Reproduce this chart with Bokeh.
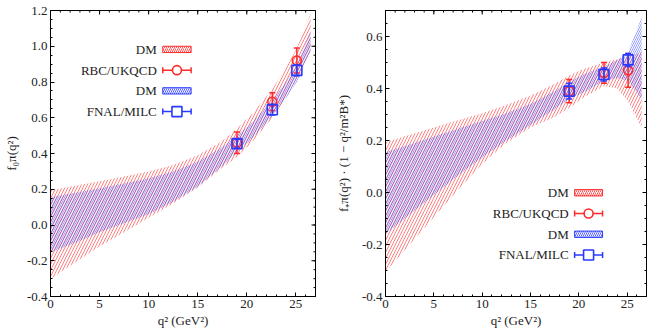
import numpy as np
from bokeh.plotting import figure
from bokeh.layouts import row
from bokeh.models import FixedTicker, PrintfTickFormatter, Range1d
from bokeh.core.properties import value
from bokeh.embed import file_html
from bokeh.resources import INLINE

# ---------------- data ----------------
q_band = [0, 2.5, 5, 7.5, 10, 12.5, 15, 17.5, 19, 20.5, 22.6, 24, 25.1, 26.5]

# left panel: f0
f0_dm_red_upper = [0.195, 0.22, 0.245, 0.272, 0.30, 0.335, 0.39, 0.47, 0.54, 0.62, 0.76, 0.88, 0.99, 1.18]
f0_dm_red_lower = [-0.30, -0.21, -0.12, -0.04, 0.04, 0.12, 0.21, 0.32, 0.38, 0.46, 0.60, 0.71, 0.82, 0.97]
f0_dm_blue_upper = [0.155, 0.18, 0.205, 0.232, 0.262, 0.30, 0.355, 0.435, 0.50, 0.57, 0.70, 0.80, 0.90, 1.08]
f0_dm_blue_lower = [-0.152, -0.10, -0.04, 0.01, 0.06, 0.13, 0.215, 0.33, 0.41, 0.48, 0.61, 0.71, 0.80, 0.98]

# right panel: f+ * (1 - q2/mB*^2)
fp_dm_red_upper = [0.193, 0.222, 0.25, 0.278, 0.305, 0.337, 0.372, 0.418, 0.45, 0.475, 0.50, 0.513, 0.52, 0.54]
fp_dm_red_lower = [-0.306, -0.20, -0.095, 0.01, 0.11, 0.19, 0.25, 0.29, 0.325, 0.365, 0.41, 0.40, 0.35, 0.25]
fp_dm_blue_upper = [0.155, 0.185, 0.215, 0.245, 0.275, 0.305, 0.34, 0.39, 0.425, 0.455, 0.485, 0.51, 0.54, 0.674]
fp_dm_blue_lower = [-0.16, -0.085, -0.01, 0.065, 0.135, 0.20, 0.26, 0.32, 0.36, 0.385, 0.43, 0.44, 0.43, 0.36]

q_lat = [19.0, 22.6, 25.1]
f0_rbc = [0.46, 0.69, 0.92]
f0_rbc_err = [0.06, 0.05, 0.07]
f0_fnal = [0.455, 0.645, 0.865]
f0_fnal_err = [0.025, 0.03, 0.03]
fp_rbc = [0.39, 0.46, 0.47]
fp_rbc_err = [0.045, 0.04, 0.065]
fp_fnal = [0.39, 0.454, 0.51]
fp_fnal_err = [0.03, 0.025, 0.025]

legend_labels = ["DM", "RBC/UKQCD", "DM", "FNAL/MILC"]
x_ticks = [0, 5, 10, 15, 20, 25]
y_ticks_left = [-0.4, -0.2, 0.0, 0.2, 0.4, 0.6, 0.8, 1.0, 1.2]
y_ticks_right = [-0.4, -0.2, 0.0, 0.2, 0.4, 0.6]

RED = "#ff2a2a"
BLUE = "#2a3aff"
FONT = "'Liberation Serif', serif"
TXT = "#222222"


def style_axis(ax, ticker, fmt):
    ax.ticker = ticker
    ax.formatter = fmt
    ax.axis_line_color = "black"
    ax.major_tick_in = 4
    ax.major_tick_out = 0
    ax.minor_tick_in = 2
    ax.minor_tick_out = 0
    ax.major_tick_line_color = "black"
    ax.minor_tick_line_color = "black"
    ax.major_label_text_font = FONT
    ax.major_label_text_font_size = "13px"
    ax.major_label_text_color = TXT
    ax.major_label_standoff = 3
    ax.axis_label_text_font = FONT
    ax.axis_label_text_font_size = "13px"
    ax.axis_label_text_font_style = "normal"
    ax.axis_label_text_color = TXT


def make_fig(ylo, yhi, yticks, bl, br, ylab_standoff, ylabel, red_u, red_l, blue_u, blue_l,
             rbc, rbc_err, fnal, fnal_err, leg_fx, leg_fy, leg_dy):
    xlo, xhi = 0, 27
    p = figure(width=332, height=332, x_range=Range1d(xlo, xhi), y_range=Range1d(ylo, yhi),
               output_backend="svg", toolbar_location=None,
               min_border_left=bl, min_border_right=br, min_border_top=10, min_border_bottom=36)
    p.xgrid.visible = False
    p.ygrid.visible = False
    p.outline_line_color = "black"
    p.outline_line_width = 1

    xmin = list(np.arange(xlo, xhi + 1e-9, 1.0))
    ymin = list(np.round(np.arange(ylo, yhi + 1e-9, 0.05), 3))
    xt = FixedTicker(ticks=x_ticks, minor_ticks=xmin)
    yt = FixedTicker(ticks=yticks, minor_ticks=ymin)
    style_axis(p.xaxis[0], xt, PrintfTickFormatter(format="%d"))
    style_axis(p.yaxis[0], yt, PrintfTickFormatter(format="%.1f"))
    p.xaxis[0].axis_label = "q² (GeV²)"
    p.xaxis[0].axis_label_standoff = 2
    p.yaxis[0].axis_label = ylabel
    p.yaxis[0].axis_label_standoff = ylab_standoff

    # mirrored inward ticks on top and right frame edges (clipped half-dashes)
    p.scatter(x=xmin, y=[yhi] * len(xmin), marker="dash", angle=np.pi / 2, size=4,
              line_color="black", line_width=1)
    p.scatter(x=x_ticks, y=[yhi] * len(x_ticks), marker="dash", angle=np.pi / 2, size=8,
              line_color="black", line_width=1)
    p.scatter(x=[xhi] * len(ymin), y=ymin, marker="dash", size=4, line_color="black", line_width=1)
    p.scatter(x=[xhi] * len(yticks), y=yticks, marker="dash", size=8, line_color="black", line_width=1)

    # bands
    p.varea(x=q_band, y1=red_l, y2=red_u, fill_color=None, fill_alpha=0,
            hatch_pattern="/", hatch_color=RED, hatch_scale=6, hatch_weight=0.8, hatch_alpha=0.75)
    p.varea(x=q_band, y1=blue_l, y2=blue_u, fill_color=None, fill_alpha=0,
            hatch_pattern="\\", hatch_color=BLUE, hatch_scale=4, hatch_weight=0.8, hatch_alpha=0.6)

    # error bars
    for vals, errs, col, mk, sz in ((rbc, rbc_err, RED, "circle", 9), (fnal, fnal_err, BLUE, "square", 10)):
        v = np.array(vals)
        e = np.array(errs)
        p.segment(x0=q_lat, y0=v - e, x1=q_lat, y1=v + e, line_color=col, line_width=1.5)
        p.scatter(x=q_lat + q_lat, y=list(v - e) + list(v + e), marker="dash", size=6,
                  line_color=col, line_width=1.5)
        p.scatter(x=q_lat, y=vals, marker=mk, size=sz, fill_color=None, line_color=col, line_width=1.6)

    # legend (text at left, sample at right)
    xr = xhi - xlo
    yr = yhi - ylo
    tx = xlo + leg_fx * xr
    s0 = tx + 0.61
    s1 = tx + 3.5
    sm = 0.5 * (s0 + s1)
    ys = [ylo + (leg_fy - i * leg_dy) * yr for i in range(4)]
    p.text(x=[tx] * 4, y=ys, text=legend_labels, text_align="right", text_baseline="middle",
           text_font=value(FONT), text_font_size="13px", text_color=TXT)
    hh = 0.011 * yr
    cap = 0.0105 * yr
    for i, (col, kind, mk, sz) in enumerate(((RED, "band", None, 0), (RED, "err", "circle", 9),
                                             (BLUE, "band", None, 0), (BLUE, "err", "square", 10))):
        yy = ys[i]
        if kind == "band":
            pat = "/" if col == RED else "\\"
            p.quad(left=[s0], right=[s1], bottom=[yy - hh], top=[yy + hh], fill_color=None,
                   line_color=col, line_width=1, hatch_pattern=pat, hatch_color=col,
                   hatch_scale=4, hatch_weight=1, hatch_alpha=0.8)
        else:
            p.segment(x0=[s0], y0=[yy], x1=[s1], y1=[yy], line_color=col, line_width=1.5)
            p.segment(x0=[s0, s1], y0=[yy - cap, yy - cap], x1=[s0, s1], y1=[yy + cap, yy + cap],
                      line_color=col, line_width=1.5)
            p.scatter(x=[sm], y=[yy], marker=mk, size=sz, fill_color="white", line_color=col, line_width=1.6)
    return p


p1 = make_fig(-0.4, 1.2, y_ticks_left, 48, 17, 5, "f₀π(q²)",
              f0_dm_red_upper, f0_dm_red_lower, f0_dm_blue_upper, f0_dm_blue_lower,
              f0_rbc, f0_rbc_err, f0_fnal, f0_fnal_err,
              leg_fx=0.401, leg_fy=0.864, leg_dy=0.0725)
p2 = make_fig(-0.4, 0.7, y_ticks_right, 48, 18, 8, "f₊π(q²) · (1 − q²/m²B*)",
              fp_dm_red_upper, fp_dm_red_lower, fp_dm_blue_upper, fp_dm_blue_lower,
              fp_rbc, fp_rbc_err, fp_fnal, fp_fnal_err,
              leg_fx=0.702, leg_fy=0.3627, leg_dy=0.0725)

layout = row(p1, p2)
open("out.html", "w").write(file_html(layout, INLINE))
